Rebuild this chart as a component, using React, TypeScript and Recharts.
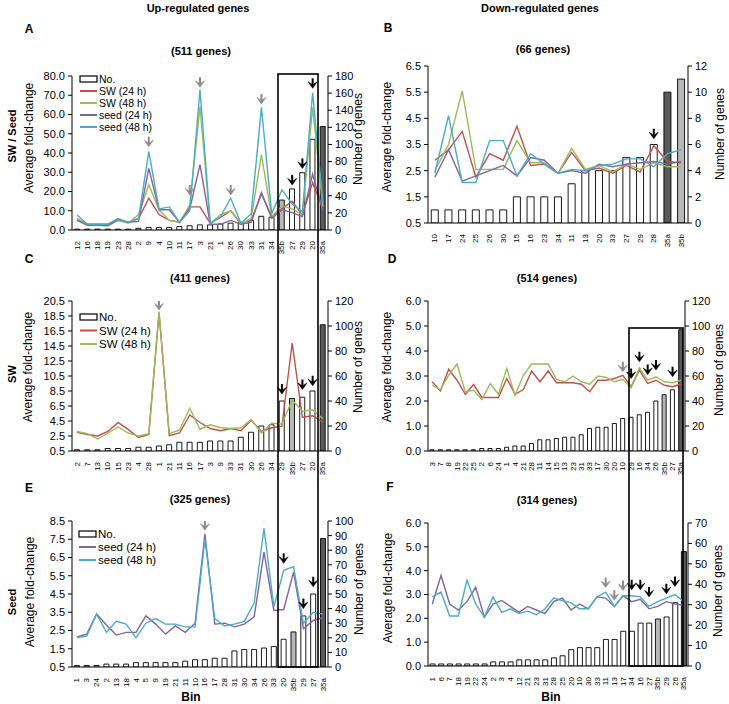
import React from 'react';
import { ComposedChart, Bar, Line, XAxis, YAxis, Cell } from 'recharts';

const RED = '#C0504D';
const GREEN = '#9BBB59';
const PURPLE = '#8064A2';
const CYAN = '#4BACC6';
const DARK = '#595959';
const LIGHT = '#B8B8B8';
const ARROW_GREY = '#8C8C8C';

// ---------- Panel A (Up, SW / Seed, 511 genes) ----------
const binsA = ['12','16','18','19','23','28','2','9','4','10','11','17','3','21','1','26','30','33','31','34','35b','27','29','20','35a'];
const countA = [1,1,1,1,1,1,2,3,3,3,4,5,6,6,7,8,9,11,16,15,35,48,67,106,121];
const sw24A = [5.5,3,3,3,5,4,6,16.5,8,5,4,12,12,3.5,6.5,10,3.5,5,18.7,7,11,15,7.8,24.6,11];
const sw48A = [6,2.5,2.5,2,5,3.5,8,23.5,10.5,5,4,13,64,3,8,10,3,6,39,7,12.5,11,8,63.7,12];
const seed24A = [5,2.5,2.5,2.5,5.5,4,4.5,32,10.5,10.5,4,11,34,3,3,5,3,4,19.5,6,10.5,9,7,29,10];
const seed48A = [7.8,3,3,3,6,4,6,40.7,11,12,4,10,73,3.5,7,16.5,3.5,8.5,63.7,8.5,20.8,13.5,9.5,71.3,14];
const greyArrowsA: Record<string, number> = { '9': 43.3, '17': 18.2, '3': 74.1, '26': 18.2, '31': 65.5 };
const blackArrowsA: Record<string, number> = { '27': 23.4, '29': 32, '20': 73.6 };
const leftTicksA = [0,10,20,30,40,50,60,70,80];
const rightTicksA = [0,20,40,60,80,100,120,140,160,180];

// ---------- Panel B (Down, SW / Seed, 66 genes) ----------
const binsB = ['10','17','24','25','26','30','15','16','23','34','11','13','20','33','27','29','28','35a','35b'];
const countB = [1,1,1,1,1,1,2,2,2,2,3,4,4,4,5,5,6,10,11];
const sw24B = [2.9,3.3,4.0,2.25,3.15,2.9,4.2,2.7,2.75,2.4,3.2,2.5,2.6,2.4,2.7,2.45,3.45,2.85,2.8];
const sw48B = [2.5,3.5,5.55,2.55,2.55,2.55,3.65,2.8,2.8,2.4,3.35,2.55,2.7,2.45,2.75,2.55,2.8,2.65,2.65];
const seed24B = [2.25,3.3,2.1,2.3,2.5,2.7,2.3,3.0,2.9,2.4,2.5,2.4,2.75,2.65,2.75,2.8,2.85,2.75,2.85];
const seed48B = [2.4,4.6,2.05,2.05,3.65,3.65,2.3,3.15,2.75,2.4,2.55,2.5,2.7,2.75,2.95,2.95,2.65,3.15,3.3];
const greyArrowsB: Record<string, number> = {};
const blackArrowsB: Record<string, number> = { '28': 3.72 };
const leftTicksB = [0.5,1.5,2.5,3.5,4.5,5.5,6.5];
const rightTicksB = [0,2,4,6,8,10,12];

// ---------- Panel C (Up, SW, 411 genes) ----------
const binsC = ['2','7','13','10','15','23','4','28','1','21','11','16','17','3','9','33','31','30','26','34','29','35b','27','20','35a'];
const countC = [1,1,1,2,2,2,3,3,4,5,7,7,7,8,8,8,11,15,20,21,40,42,43,48,101];
const sw24C = [3.0,2.7,2.5,3.1,4.3,3.35,2.3,2.7,18.9,2.55,2.9,5.3,4.3,3.5,3.2,3.5,3.2,4.6,3.1,3.6,3.8,14.9,5.0,5.2,4.3];
const sw48C = [3.1,2.8,2.1,2.9,3.7,2.9,2.5,2.8,19.1,2.8,3.3,6.2,3.4,4.0,3.6,3.5,3.6,4.7,2.9,4.2,4.1,7.3,5.8,6.0,4.8];
const greyArrowsC: Record<string, number> = { '1': 19.3 };
const blackArrowsC: Record<string, number> = { '29': 8.1, '27': 8.7, '20': 9.2 };
const leftTicksC = [0.5,2.5,4.5,6.5,8.5,10.5,12.5,14.5,16.5,18.5,20.5];
const rightTicksC = [0,20,40,60,80,100,120];

// ---------- Panel D (Down, SW, 514 genes) ----------
const binsD = ['3','7','8','19','22','25','2','6','24','1','4','21','28','11','14','15','13','23','31','33','17','30','20','10','29','16','34','26','35b','27','35a'];
const countD = [1,1,1,1,1,1,2,2,2,3,4,4,6,9,9,10,11,11,13,18,19,19,22,26,27,29,31,40,45,49,97];
const sw24D = [2.77,2.4,3.27,2.83,2.27,2.66,2.14,2.14,2.14,2.9,2.27,2.46,3.2,2.77,3.2,2.73,2.73,2.73,2.67,2.37,2.83,2.83,2.9,3.03,2.57,3.23,2.7,2.83,2.63,2.57,2.67];
const sw48D = [2.63,2.46,3.03,3.48,2.37,2.43,2.06,2.7,2.27,3.3,2.23,3.03,3.48,3.48,3.48,2.86,2.77,3.0,2.77,2.67,3.0,2.94,2.77,2.87,2.53,3.33,2.83,2.97,2.77,2.73,2.83];
const greyArrowsD: Record<string, number> = { '10': 3.17 };
const blackArrowsD: Record<string, number> = { '29': 2.9, '16': 3.57, '34': 3.06, '26': 3.24, '27': 2.97 };
const leftTicksD = [0,1,2,3,4,5,6];
const rightTicksD = [0,20,40,60,80,100,120];

// ---------- Panel E (Up, Seed, 325 genes) ----------
const binsE = ['1','3','24','2','13','18','4','5','9','19','21','11','10','16','17','28','31','30','34','26','33','20','35b','29','27','35a'];
const countE = [1,1,1,2,2,2,3,3,3,3,3,4,5,5,6,6,11,12,12,13,14,19,24,35,50,88];
const seed24E = [2.15,2.3,3.4,2.8,2.25,2.4,2.4,3.3,2.85,2.3,2.75,2.4,2.9,7.8,2.85,2.9,2.7,2.85,3.25,6.8,3.6,3.65,5.7,2.6,3.05,3.2];
const seed48E = [2.1,2.2,3.4,2.4,3.0,2.85,2.1,2.9,3.15,2.85,2.85,2.7,2.7,7.5,3.15,2.75,2.85,3.0,4.0,8.1,3.8,5.8,6.0,2.9,3.5,3.4];
const greyArrowsE: Record<string, number> = { '16': 8.0, '26': 8.47 };
const blackArrowsE: Record<string, number> = { '20': 6.18, '29': 3.7, '27': 4.9 };
const leftTicksE = [0.5,1.5,2.5,3.5,4.5,5.5,6.5,7.5,8.5];
const rightTicksE = [0,10,20,30,40,50,60,70,80,90,100];

// ---------- Panel F (Down, Seed, 314 genes) ----------
const binsF = ['1','6','7','18','19','22','24','2','3','4','12','21','23','31','28','25','20','10','30','33','11','13','17','34','16','27','35b','29','26','35a'];
const countF = [1,1,1,1,1,1,1,2,2,2,3,3,3,3,4,5,8,9,9,9,13,13,17,17,21,21,23,24,31,56];
const seed24F = [2.6,3.8,2.6,2.35,2.7,3.3,2.05,2.6,2.75,2.5,2.25,2.5,2.35,2.2,2.7,2.85,2.35,2.6,2.4,2.9,2.85,2.5,2.95,2.7,2.8,2.4,2.5,2.7,2.6,2.55];
const seed48F = [2.9,3.1,2.1,2.1,3.6,2.6,2.05,2.9,2.25,2.4,2.2,2.3,2.15,2.4,2.85,2.75,2.65,2.4,2.4,2.9,3.1,2.5,2.95,2.95,2.9,2.5,2.7,2.85,3.0,2.7];
const greyArrowsF: Record<string, number> = { '11': 3.29, '13': 2.76, '17': 3.17 };
const blackArrowsF: Record<string, number> = { '34': 3.2, '16': 3.2, '27': 2.9, '29': 3.03, '26': 3.34 };
const leftTicksF = [0,1,2,3,4,5,6];
const rightTicksF = [0,10,20,30,40,50,60,70];

type Series = { key: string; name: string; color: string; values: number[] };

function buildRows(bins: string[], counts: number[], series: Series[], grey: Record<string, number>, black: Record<string, number>) {
  return bins.map((bin, i) => {
    const row: any = { bin, count: counts[i] };
    series.forEach((s) => { row[s.key] = s.values[i]; });
    row.arrowGrey = grey[bin] !== undefined ? grey[bin] : null;
    row.arrowBlack = black[bin] !== undefined ? black[bin] : null;
    return row;
  });
}

function barFill(bin: string) {
  if (bin === '35a') return DARK;
  if (bin === '35b') return LIGHT;
  return '#FFFFFF';
}

const makeArrow = (color: string, key: string) => (props: any) => {
  const { cx, cy, index, payload } = props;
  const v = payload ? payload[key] : null;
  if (v === null || v === undefined || cx == null || cy == null || isNaN(cy)) return <g key={`${key}-${index}`} />;
  return (
    <g key={`${key}-${index}`}>
      <line x1={cx} y1={cy - 10} x2={cx} y2={cy - 3} stroke={color} strokeWidth={2} />
      <polygon points={`${cx - 4.5},${cy - 6.5} ${cx},${cy} ${cx + 4.5},${cy - 6.5} ${cx},${cy - 3.5}`} fill={color} stroke={color} strokeWidth={0.6} />
    </g>
  );
};

const XTick = (props: any) => {
  const { x, y, payload } = props;
  return (
    <text x={x} y={y + 3} transform={`rotate(-90, ${x}, ${y + 3})`} textAnchor="end" dominantBaseline="central" fontSize={8} fill="#000">
      {payload.value}
    </text>
  );
};

type PanelCfg = {
  plot: { l: number; r: number; t: number; b: number };
  rows: any[];
  series: Series[];
  leftTicks: number[];
  rightTicks: number[];
};

const YW = 40;
const XH = 30;
const MT = 12;

function Panel({ cfg }: { cfg: PanelCfg }) {
  const { plot, rows, series, leftTicks, rightTicks } = cfg;
  const width = plot.r - plot.l + 2 * YW;
  const height = plot.b - plot.t + MT + XH;
  return (
    <div style={{ position: 'absolute', left: plot.l - YW, top: plot.t - MT }}>
      <ComposedChart width={width} height={height} data={rows} margin={{ top: MT, right: 0, bottom: 0, left: 0 }} barCategoryGap="24%">
        <XAxis dataKey="bin" type="category" interval={0} height={XH} tick={(p: any) => <XTick {...p} />} tickLine={false} axisLine={{ stroke: '#000', strokeWidth: 1 }} />
        <YAxis
          yAxisId="left"
          orientation="left"
          width={YW}
          type="number"
          domain={[leftTicks[0], leftTicks[leftTicks.length - 1]]}
          ticks={leftTicks}
          interval={0}
          allowDataOverflow
          tickFormatter={(v: number) => v.toFixed(1)}
          tick={{ fontSize: 11, fill: '#000' }}
          tickSize={4}
          tickMargin={3}
          tickLine={{ stroke: '#000' }}
          axisLine={{ stroke: '#000' }}
        />
        <YAxis
          yAxisId="right"
          orientation="right"
          width={YW}
          type="number"
          domain={[rightTicks[0], rightTicks[rightTicks.length - 1]]}
          ticks={rightTicks}
          interval={0}
          allowDataOverflow
          tick={{ fontSize: 11, fill: '#000' }}
          tickSize={4}
          tickMargin={3}
          tickLine={{ stroke: '#000' }}
          axisLine={{ stroke: '#000' }}
        />
        <Bar yAxisId="right" dataKey="count" stroke="#000" strokeWidth={0.9} isAnimationActive={false}>
          {rows.map((r, i) => (
            <Cell key={`c${i}`} fill={barFill(r.bin)} />
          ))}
        </Bar>
        {series.map((s) => (
          <Line key={s.key} yAxisId="left" type="linear" dataKey={s.key} stroke={s.color} strokeWidth={1.4} dot={false} activeDot={false} isAnimationActive={false} />
        ))}
        <Line yAxisId="left" dataKey="arrowGrey" stroke="none" dot={makeArrow(ARROW_GREY, 'arrowGrey')} activeDot={false} isAnimationActive={false} legendType="none" />
        <Line yAxisId="left" dataKey="arrowBlack" stroke="none" dot={makeArrow('#000', 'arrowBlack')} activeDot={false} isAnimationActive={false} legendType="none" />
      </ComposedChart>
    </div>
  );
}

const sA: Series[] = [
  { key: 'sw24', name: 'SW (24 h)', color: RED, values: sw24A },
  { key: 'sw48', name: 'SW (48 h)', color: GREEN, values: sw48A },
  { key: 'seed24', name: 'seed (24 h)', color: PURPLE, values: seed24A },
  { key: 'seed48', name: 'seed (48 h)', color: CYAN, values: seed48A },
];
const sB: Series[] = [
  { key: 'sw24', name: 'SW (24 h)', color: RED, values: sw24B },
  { key: 'sw48', name: 'SW (48 h)', color: GREEN, values: sw48B },
  { key: 'seed24', name: 'seed (24 h)', color: PURPLE, values: seed24B },
  { key: 'seed48', name: 'seed (48 h)', color: CYAN, values: seed48B },
];
const sC: Series[] = [
  { key: 'sw24', name: 'SW (24 h)', color: RED, values: sw24C },
  { key: 'sw48', name: 'SW (48 h)', color: GREEN, values: sw48C },
];
const sD: Series[] = [
  { key: 'sw24', name: 'SW (24 h)', color: RED, values: sw24D },
  { key: 'sw48', name: 'SW (48 h)', color: GREEN, values: sw48D },
];
const sE: Series[] = [
  { key: 'seed24', name: 'seed (24 h)', color: PURPLE, values: seed24E },
  { key: 'seed48', name: 'seed (48 h)', color: CYAN, values: seed48E },
];
const sF: Series[] = [
  { key: 'seed24', name: 'seed (24 h)', color: PURPLE, values: seed24F },
  { key: 'seed48', name: 'seed (48 h)', color: CYAN, values: seed48F },
];

const panels: PanelCfg[] = [
  { plot: { l: 72, r: 328, t: 76, b: 230 }, rows: buildRows(binsA, countA, sA, greyArrowsA, blackArrowsA), series: sA, leftTicks: leftTicksA, rightTicks: rightTicksA },
  { plot: { l: 428, r: 688, t: 66, b: 223 }, rows: buildRows(binsB, countB, sB, greyArrowsB, blackArrowsB), series: sB, leftTicks: leftTicksB, rightTicks: rightTicksB },
  { plot: { l: 72, r: 328, t: 301, b: 451 }, rows: buildRows(binsC, countC, sC, greyArrowsC, blackArrowsC), series: sC, leftTicks: leftTicksC, rightTicks: rightTicksC },
  { plot: { l: 428, r: 685, t: 301, b: 451 }, rows: buildRows(binsD, countD, sD, greyArrowsD, blackArrowsD), series: sD, leftTicks: leftTicksD, rightTicks: rightTicksD },
  { plot: { l: 72, r: 328, t: 521, b: 667 }, rows: buildRows(binsE, countE, sE, greyArrowsE, blackArrowsE), series: sE, leftTicks: leftTicksE, rightTicks: rightTicksE },
  { plot: { l: 428, r: 688, t: 523, b: 666 }, rows: buildRows(binsF, countF, sF, greyArrowsF, blackArrowsF), series: sF, leftTicks: leftTicksF, rightTicks: rightTicksF },
];

function LegendBlock({ x, y, step, size, series }: { x: number; y: number; step: number; size: number; series: Series[] }) {
  return (
    <g>
      <rect x={x} y={y - 3} width={17} height={6} fill="#fff" stroke="#000" strokeWidth={1.2} />
      <text x={x + 19} y={y} dominantBaseline="central" fontSize={size} fill="#000">No.</text>
      {series.map((s, i) => (
        <g key={s.key}>
          <line x1={x} y1={y + step * (i + 1)} x2={x + 17} y2={y + step * (i + 1)} stroke={s.color} strokeWidth={2} />
          <text x={x + 19} y={y + step * (i + 1)} dominantBaseline="central" fontSize={size} fill="#000">{s.name}</text>
        </g>
      ))}
    </g>
  );
}

const RotText = ({ x, y, children, size = 12, bold = false }: any) => (
  <text x={x} y={y} transform={`rotate(-90, ${x}, ${y})`} textAnchor="middle" dominantBaseline="central" fontSize={size} fontWeight={bold ? 'bold' : 'normal'} fill="#000">
    {children}
  </text>
);

const T = ({ x, y, children, size = 11, bold = true }: any) => (
  <text x={x} y={y} textAnchor="middle" dominantBaseline="central" fontSize={size} fontWeight={bold ? 'bold' : 'normal'} fill="#000">
    {children}
  </text>
);

export default function App() {
  return (
    <div style={{ position: 'absolute', left: 0, top: 0, width: 729, height: 704, background: '#fff', fontFamily: '"Liberation Sans", Arial, sans-serif', overflow: 'hidden' }}>
      {panels.map((p, i) => (
        <Panel key={i} cfg={p} />
      ))}
      <svg width={729} height={704} style={{ position: 'absolute', left: 0, top: 0, pointerEvents: 'none' }}>
        <T x={198} y={8}>Up-regulated genes</T>
        <T x={540} y={8}>Down-regulated genes</T>
        <T x={29} y={29} size={12}>A</T>
        <T x={388} y={28} size={12}>B</T>
        <T x={29} y={259} size={12}>C</T>
        <T x={392} y={259} size={12}>D</T>
        <T x={29} y={488} size={12}>E</T>
        <T x={390} y={487} size={12}>F</T>
        <T x={201} y={51}>(511 genes)</T>
        <T x={543} y={49}>(66 genes)</T>
        <T x={200} y={278}>(411 genes)</T>
        <T x={547} y={278}>(514 genes)</T>
        <T x={200} y={499}>(325 genes)</T>
        <T x={547} y={500}>(314 genes)</T>
        <T x={191} y={697} size={12}>Bin</T>
        <T x={551} y={697} size={12}>Bin</T>
        <RotText x={12} y={136} size={11} bold>SW / Seed</RotText>
        <RotText x={12} y={374} size={11} bold>SW</RotText>
        <RotText x={12} y={602} size={11} bold>Seed</RotText>

        <RotText x={29} y={138}>Average fold-change</RotText>
        <RotText x={387} y={137}>Average fold-change</RotText>
        <RotText x={28} y={367}>Average fold-change</RotText>
        <RotText x={387} y={367}>Average fold-change</RotText>
        <RotText x={30} y={592}>Average fold-change</RotText>
        <RotText x={388} y={588}>Average fold-change</RotText>

        <RotText x={358} y={139}>Number of genes</RotText>
        <RotText x={720} y={134}>Number of genes</RotText>
        <RotText x={358} y={367}>Number of genes</RotText>
        <RotText x={719} y={370}>Number of genes</RotText>
        <RotText x={359} y={589}>Number of genes</RotText>
        <RotText x={718} y={591}>Number of genes</RotText>

        <LegendBlock x={80} y={79} step={12} size={10.5} series={sA} />
        <LegendBlock x={80} y={317} step={13.5} size={11.5} series={sC} />
        <LegendBlock x={79} y={534} step={13} size={11.5} series={sE} />

        <rect x={278} y={74} width={40} height={593} fill="none" stroke="#000" strokeWidth={1.6} />
        <rect x={629} y={328} width={54} height={338} fill="none" stroke="#000" strokeWidth={1.6} />
      </svg>
    </div>
  );
}
